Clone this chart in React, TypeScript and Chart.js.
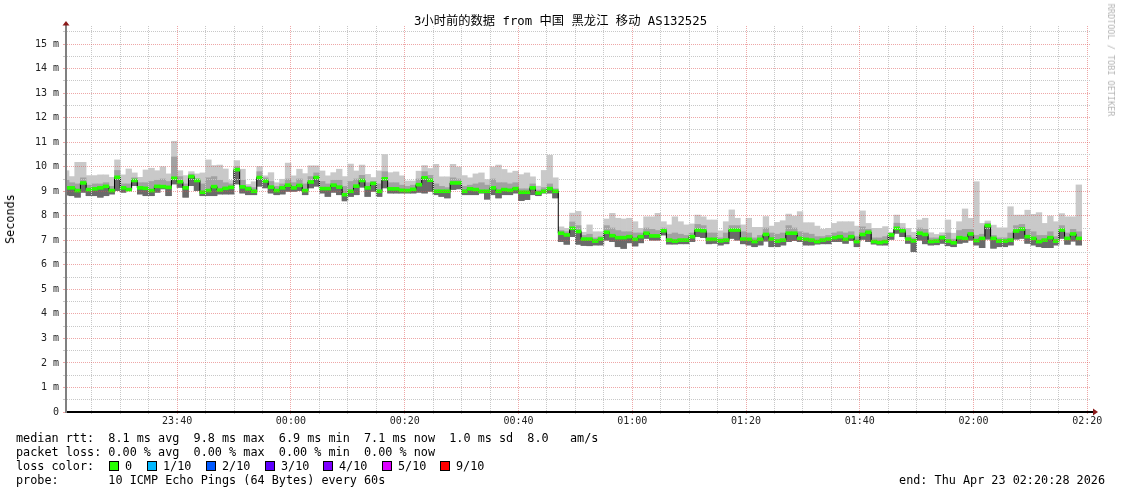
import React, { useEffect, useRef } from 'react';
import { Chart, registerables } from 'chart.js';

Chart.register(...registerables);

const FONT_MONO = "'DejaVu Sans Mono', 'Noto Sans CJK SC', monospace";

const TITLE = '3小时前的数据 from 中国 黑龙江 移动 AS132525';
const Y_TITLE = 'Seconds';
const CREDIT = 'RRDTOOL / TOBI OETIKER';

// One-minute bins; first bin starts at 23:20 (minutes relative to 00:00)
const FIRST_BIN_MIN = -40;
const BIN_MIN = 1;
const RANGE_START_MIN = -39.533; // 23:20:28
const RANGE_END_MIN = 140.467; // 02:20:28
const Y_MAX = 15.74;

// median RTT per minute (ms)
const medianMs = [
  9.14, 9.14, 9.03, 9.34, 9.07, 9.10, 9.14, 9.20, 9.03, 9.57,
  9.14, 9.07, 9.44, 9.14, 9.12, 9.03, 9.20, 9.19, 9.16, 9.53,
  9.39, 9.14, 9.60, 9.44, 8.96, 9.03, 9.19, 9.05, 9.12, 9.16,
  9.88, 9.18, 9.10, 9.00, 9.56, 9.42, 9.17, 9.03, 9.14, 9.25,
  9.14, 9.24, 9.03, 9.38, 9.56, 9.11, 9.11, 9.25, 9.17, 8.86,
  9.00, 9.21, 9.44, 9.14, 9.32, 9.00, 9.51, 9.10, 9.10, 9.04,
  9.03, 9.08, 9.27, 9.55, 9.45, 9.00, 9.00, 9.00, 9.34, 9.34,
  9.00, 9.10, 9.07, 9.00, 9.00, 9.14, 9.00, 9.07, 9.04, 9.11,
  8.96, 8.96, 9.14, 8.93, 9.00, 9.11, 9.00, 7.29, 7.22, 7.49,
  7.36, 7.05, 7.05, 6.97, 7.05, 7.33, 7.19, 7.11, 7.11, 7.15,
  7.04, 7.15, 7.29, 7.18, 7.18, 7.39, 7.01, 6.97, 7.01, 7.01,
  7.15, 7.42, 7.39, 7.04, 7.04, 6.98, 7.01, 7.42, 7.42, 7.05,
  7.04, 6.95, 7.04, 7.24, 7.05, 6.97, 7.01, 7.29, 7.29, 7.08,
  7.04, 7.01, 6.95, 7.01, 7.05, 7.11, 7.15, 7.04, 7.15, 6.95,
  7.24, 7.33, 6.95, 6.91, 6.95, 7.22, 7.49, 7.39, 7.05, 6.98,
  7.29, 7.24, 6.95, 6.97, 7.11, 6.97, 6.90, 7.11, 7.08, 7.26,
  6.99, 7.08, 7.60, 7.08, 6.97, 6.97, 7.01, 7.38, 7.46, 7.15,
  7.08, 6.95, 7.01, 7.11, 6.97, 7.42, 7.08, 7.26, 7.08,
];

// lowest ping per minute (ms)
const lowMs = [
  8.85, 8.82, 8.76, 8.96, 8.82, 8.82, 8.76, 8.82, 8.89, 9.03,
  8.96, 9.03, 9.23, 8.89, 8.82, 8.82, 8.96, 9.10, 8.82, 9.30,
  9.16, 8.76, 9.23, 9.03, 8.82, 8.82, 8.82, 8.89, 8.89, 8.89,
  9.30, 8.93, 8.86, 8.86, 9.21, 9.14, 8.93, 8.86, 8.89, 9.00,
  9.00, 9.03, 8.86, 9.14, 9.21, 8.93, 8.79, 8.96, 8.86, 8.61,
  8.79, 8.86, 9.17, 8.79, 9.00, 8.79, 9.14, 8.93, 8.93, 8.93,
  8.93, 8.93, 8.96, 8.93, 9.00, 8.86, 8.79, 8.73, 9.07, 9.10,
  8.86, 8.86, 8.86, 8.93, 8.68, 8.86, 8.73, 8.86, 8.86, 8.93,
  8.62, 8.66, 8.86, 8.82, 8.93, 8.93, 8.73, 6.95, 6.84, 7.15,
  6.84, 6.79, 6.78, 6.81, 6.81, 7.01, 6.95, 6.74, 6.67, 6.90,
  6.77, 6.90, 7.08, 7.01, 7.01, 7.22, 6.85, 6.85, 6.86, 6.86,
  6.95, 7.15, 7.11, 6.86, 6.88, 6.81, 6.86, 7.08, 7.01, 6.86,
  6.81, 6.74, 6.81, 6.97, 6.74, 6.74, 6.81, 6.95, 6.99, 6.95,
  6.81, 6.81, 6.85, 6.86, 6.86, 6.95, 6.95, 6.88, 6.99, 6.74,
  7.04, 6.95, 6.85, 6.81, 6.81, 7.04, 7.29, 7.15, 6.88, 6.54,
  7.01, 6.86, 6.81, 6.82, 6.88, 6.78, 6.74, 6.88, 6.92, 7.01,
  6.81, 6.70, 7.05, 6.68, 6.74, 6.74, 6.81, 7.05, 7.08, 6.88,
  6.81, 6.74, 6.70, 6.70, 6.81, 7.08, 6.84, 6.97, 6.81,
];

// highest ping per minute (ms)
const highMs = [
  9.84, 9.60, 10.18, 10.18, 9.64, 9.64, 9.67, 9.67, 9.57, 10.28,
  9.67, 9.91, 9.75, 9.57, 9.87, 9.94, 9.84, 10.00, 9.71, 11.04,
  9.84, 9.64, 9.80, 9.71, 9.75, 10.28, 10.05, 10.07, 9.91, 9.44,
  10.25, 9.90, 9.28, 9.39, 10.01, 9.63, 9.76, 9.35, 9.49, 10.15,
  9.63, 9.90, 9.72, 10.04, 10.04, 9.83, 9.63, 9.76, 9.90, 9.60,
  10.11, 9.83, 10.07, 9.69, 9.56, 9.83, 10.50, 9.76, 9.79, 9.63,
  9.42, 9.42, 9.82, 10.05, 9.93, 10.10, 9.59, 9.59, 10.10, 9.99,
  9.64, 9.55, 9.71, 9.75, 9.48, 9.99, 10.07, 9.89, 9.75, 9.82,
  9.68, 9.75, 9.59, 9.21, 9.85, 10.47, 9.55, 7.55, 7.49, 8.11,
  8.18, 7.33, 7.63, 7.35, 7.35, 7.87, 8.10, 7.90, 7.87, 7.90,
  7.76, 7.49, 7.96, 7.96, 8.10, 7.76, 7.63, 7.96, 7.76, 7.63,
  7.67, 8.03, 7.96, 7.83, 7.83, 7.39, 7.76, 8.24, 7.90, 7.63,
  7.90, 7.53, 7.53, 7.97, 7.58, 7.73, 7.80, 8.07, 7.99, 8.17,
  7.72, 7.72, 7.58, 7.45, 7.49, 7.69, 7.76, 7.76, 7.76, 7.58,
  8.20, 7.69, 7.49, 7.49, 7.56, 7.33, 8.03, 7.69, 7.49, 7.33,
  7.83, 7.90, 7.31, 7.24, 7.31, 7.83, 7.29, 7.76, 8.28, 7.90,
  9.39, 7.69, 7.79, 7.62, 7.51, 7.51, 8.37, 8.03, 8.03, 8.23,
  8.06, 8.13, 7.69, 7.99, 7.76, 8.09, 7.96, 7.96, 9.26,
];

// upper edge of the denser inner smoke per minute (ms)
const innerHighMs = [
  9.45, 9.35, 9.30, 9.55, 9.25, 9.30, 9.30, 9.35, 9.20, 9.85,
  9.30, 9.30, 9.55, 9.35, 9.35, 9.40, 9.45, 9.50, 9.40, 10.40,
  9.60, 9.30, 9.70, 9.50, 9.30, 9.55, 9.60, 9.45, 9.35, 9.30,
  10.00, 9.45, 9.20, 9.15, 9.80, 9.55, 9.40, 9.20, 9.30, 9.50,
  9.35, 9.50, 9.30, 9.60, 9.75, 9.40, 9.30, 9.45, 9.45, 9.20,
  9.40, 9.50, 9.65, 9.35, 9.40, 9.30, 9.80, 9.35, 9.35, 9.25,
  9.20, 9.25, 9.50, 9.80, 9.65, 9.30, 9.20, 9.15, 9.55, 9.50,
  9.20, 9.25, 9.30, 9.35, 9.25, 9.50, 9.35, 9.35, 9.30, 9.35,
  9.10, 9.10, 9.30, 9.05, 9.15, 9.30, 9.10, 7.40, 7.35, 7.75,
  7.60, 7.20, 7.25, 7.10, 7.15, 7.60, 7.50, 7.40, 7.35, 7.35,
  7.30, 7.30, 7.50, 7.45, 7.40, 7.50, 7.25, 7.30, 7.25, 7.20,
  7.30, 7.65, 7.60, 7.30, 7.30, 7.10, 7.30, 7.60, 7.60, 7.35,
  7.30, 7.10, 7.20, 7.50, 7.30, 7.25, 7.30, 7.60, 7.50, 7.35,
  7.30, 7.25, 7.15, 7.15, 7.20, 7.30, 7.35, 7.30, 7.35, 7.15,
  7.55, 7.45, 7.10, 7.10, 7.15, 7.30, 7.70, 7.50, 7.20, 7.10,
  7.50, 7.45, 7.10, 7.10, 7.20, 7.30, 7.05, 7.40, 7.45, 7.45,
  7.20, 7.25, 7.70, 7.20, 7.10, 7.10, 7.30, 7.60, 7.65, 7.45,
  7.35, 7.20, 7.20, 7.35, 7.15, 7.60, 7.30, 7.45, 7.35,
];

const timeTickValues = [-20, 0, 20, 40, 60, 80, 100, 120, 140];
const timeTickLabels = ['23:40', '00:00', '00:20', '00:40', '01:00', '01:20', '01:40', '02:00', '02:20'];
const yTickValues = [0, 1, 2, 3, 4, 5, 6, 7, 8, 9, 10, 11, 12, 13, 14, 15];
const yTickLabels = ['0', '1 m', '2 m', '3 m', '4 m', '5 m', '6 m', '7 m', '8 m', '9 m', '10 m', '11 m', '12 m', '13 m', '14 m', '15 m'];

const statsLines = [
  'median rtt:  8.1 ms avg  9.8 ms max  6.9 ms min  7.1 ms now  1.0 ms sd  8.0   am/s',
  'packet loss: 0.00 % avg  0.00 % max  0.00 % min  0.00 % now',
];
const lossTitle = 'loss color:';
const lossLabels = ['0', '1/10', '2/10', '3/10', '4/10', '5/10', '9/10'];
const lossColors = ['#26ff00', '#00b8ff', '#0059ff', '#5e00ff', '#7e00ff', '#dd00ff', '#ff0000'];
const probeLine = 'probe:       10 ICMP Echo Pings (64 Bytes) every 60s';
const endLine = 'end: Thu Apr 23 02:20:28 2026';

// styling
const MEDIAN_HALF = 0.06;
const GRID_MINOR = '#c8c8c8';
const GRID_MAJOR = 'rgba(222,79,79,0.5)';
const LOSS_BOX_LEFT = [109, 147, 206, 265, 323, 382, 440];

const axisArrows = {
  id: 'axisArrows',
  afterDraw(chart: any) {
    const { ctx, chartArea: a } = chart;
    ctx.save();
    ctx.fillStyle = '#000';
    ctx.fillRect(a.right, a.bottom - 1, 4, 2);
    ctx.fillStyle = '#8b1a1a';
    ctx.beginPath();
    ctx.moveTo(a.right + 3, a.bottom - 3.5);
    ctx.lineTo(a.right + 8, a.bottom);
    ctx.lineTo(a.right + 3, a.bottom + 3.5);
    ctx.closePath();
    ctx.fill();
    ctx.fillStyle = '#808080';
    ctx.fillRect(a.left - 1, a.top - 2, 2, 2);
    ctx.fillStyle = '#8b1a1a';
    ctx.beginPath();
    ctx.moveTo(a.left - 3.5, a.top - 0.5);
    ctx.lineTo(a.left, a.top - 5);
    ctx.lineTo(a.left + 3.5, a.top - 0.5);
    ctx.closePath();
    ctx.fill();
    ctx.restore();
  },
};

export default function App() {
  const canvasRef = useRef<HTMLCanvasElement | null>(null);

  useEffect(() => {
    const canvas = canvasRef.current;
    if (!canvas) return;

    const binCenter = (i: number) => FIRST_BIN_MIN + i * BIN_MIN + BIN_MIN / 2;
    const binStart = (i: number) => FIRST_BIN_MIN + i * BIN_MIN;

    const light = highMs.map((h, i) => ({ x: binCenter(i), y: [lowMs[i], h] }));
    const mid = innerHighMs.map((h, i) => ({ x: binCenter(i), y: [lowMs[i], h] }));
    const dark = medianMs.map((m, i) => ({ x: binCenter(i), y: [lowMs[i], m] }));
    const green = medianMs.map((m, i) => ({ x: binCenter(i), y: [m - MEDIAN_HALF, m + MEDIAN_HALF] }));
    const line = medianMs.map((m, i) => ({ x: binStart(i), y: m }));
    line.push({ x: binStart(medianMs.length), y: medianMs[medianMs.length - 1] });

    const barCommon = {
      type: 'bar' as const,
      grouped: false,
      barPercentage: 1,
      categoryPercentage: 1,
      borderWidth: 0,
    };

    const chart = new Chart(canvas, {
      type: 'bar',
      data: {
        datasets: [
          { ...barCommon, data: light as any, backgroundColor: '#c9c9c9', order: 4 },
          { ...barCommon, data: mid as any, backgroundColor: '#a2a2a2', order: 3 },
          { ...barCommon, data: dark as any, backgroundColor: '#6a6a6a', order: 2 },
          {
            type: 'line',
            data: line as any,
            borderColor: '#000000',
            borderWidth: 1,
            pointRadius: 0,
            stepped: 'before',
            order: 1,
          } as any,
          { ...barCommon, data: green as any, backgroundColor: '#26ff00', order: 0 },
        ],
      },
      options: {
        animation: false,
        responsive: false,
        devicePixelRatio: 1,
        layout: { padding: { left: 0, right: 31, top: 26, bottom: 0 } },
        plugins: { legend: { display: false }, tooltip: { enabled: false }, title: { display: false } },
        scales: {
          x: {
            type: 'linear',
            min: RANGE_START_MIN,
            max: RANGE_END_MIN,
            offset: false,
            afterBuildTicks: (scale: any) => {
              const t: any[] = [];
              for (let v = -35; v <= 140; v += 5) t.push({ value: v });
              scale.ticks = t;
            },
            afterFit: (scale: any) => {
              scale.height = 82;
            },
            grid: {
              z: 1,
              offset: false,
              tickLength: 2,
              color: (ctx: any) =>
                ctx.tick && timeTickValues.includes(ctx.tick.value) ? GRID_MAJOR : GRID_MINOR,
            },
            border: { display: true, color: '#000000', width: 2, dash: [1, 1], z: 2 },
            ticks: {
              autoSkip: false,
              maxRotation: 0,
              padding: 1,
              color: '#222',
              font: { family: FONT_MONO, size: 10 },
              callback: (value: any) => {
                const k = timeTickValues.indexOf(Number(value));
                return k >= 0 ? timeTickLabels[k] : '';
              },
            },
          },
          y: {
            type: 'linear',
            min: 0,
            max: Y_MAX,
            afterBuildTicks: (scale: any) => {
              const t: any[] = [];
              for (let v = 0; v <= 15.5; v += 0.5) t.push({ value: v });
              scale.ticks = t;
            },
            afterFit: (scale: any) => {
              scale.width = 66;
            },
            grid: {
              z: 1,
              tickLength: 3,
              color: (ctx: any) =>
                ctx.tick && Number.isInteger(ctx.tick.value) ? GRID_MAJOR : GRID_MINOR,
            },
            border: { display: true, color: '#808080', width: 2, dash: [1, 1], z: 2 },
            ticks: {
              autoSkip: false,
              padding: 4,
              color: '#222',
              font: { family: FONT_MONO, size: 10 },
              callback: (value: any) => {
                const k = yTickValues.indexOf(Number(value));
                return k >= 0 ? yTickLabels[k] : '';
              },
            },
          },
        },
      },
      plugins: [axisArrows],
    });

    return () => chart.destroy();
  }, []);

  const textBase: React.CSSProperties = {
    position: 'absolute',
    fontFamily: FONT_MONO,
    whiteSpace: 'pre',
    color: '#000',
  };

  return (
    <div style={{ position: 'fixed', left: 0, top: 0, width: 1121, height: 494, background: '#fff', overflow: 'hidden' }}>
      <canvas ref={canvasRef} width={1121} height={494} style={{ position: 'absolute', left: 0, top: 0, display: 'block' }} />
      <div style={{ ...textBase, left: 0, width: 1121, top: 13, fontSize: 12.3, lineHeight: '16px', textAlign: 'center' }}>{TITLE}</div>
      <div
        style={{
          ...textBase,
          left: 10,
          top: 219,
          fontSize: 11.8,
          lineHeight: '14px',
          transform: 'translate(-50%, -50%) rotate(-90deg)',
        }}
      >
        {Y_TITLE}
      </div>
      <div
        style={{
          ...textBase,
          left: 1111,
          top: 60,
          fontSize: 8.5,
          lineHeight: '10px',
          color: '#b4b4b4',
          transform: 'translate(-50%, -50%) rotate(90deg)',
        }}
      >
        {CREDIT}
      </div>
      {statsLines.map((s, i) => (
        <div key={i} style={{ ...textBase, left: 16, top: 431 + i * 14, fontSize: 11.8, lineHeight: '14px' }}>{s}</div>
      ))}
      <div style={{ ...textBase, left: 16, top: 459, fontSize: 11.8, lineHeight: '14px' }}>{lossTitle}</div>
      {lossLabels.map((l, i) => (
        <React.Fragment key={l}>
          <div
            style={{
              position: 'absolute',
              left: LOSS_BOX_LEFT[i],
              top: 461,
              width: 8,
              height: 8,
              background: lossColors[i],
              border: '1px solid #000',
            }}
          />
          <div style={{ ...textBase, left: LOSS_BOX_LEFT[i] + 16, top: 459, fontSize: 11.8, lineHeight: '14px' }}>{l}</div>
        </React.Fragment>
      ))}
      <div style={{ ...textBase, left: 16, top: 473, fontSize: 11.8, lineHeight: '14px' }}>{probeLine}</div>
      <div style={{ ...textBase, right: 16, top: 473, fontSize: 11.8, lineHeight: '14px' }}>{endLine}</div>
    </div>
  );
}
